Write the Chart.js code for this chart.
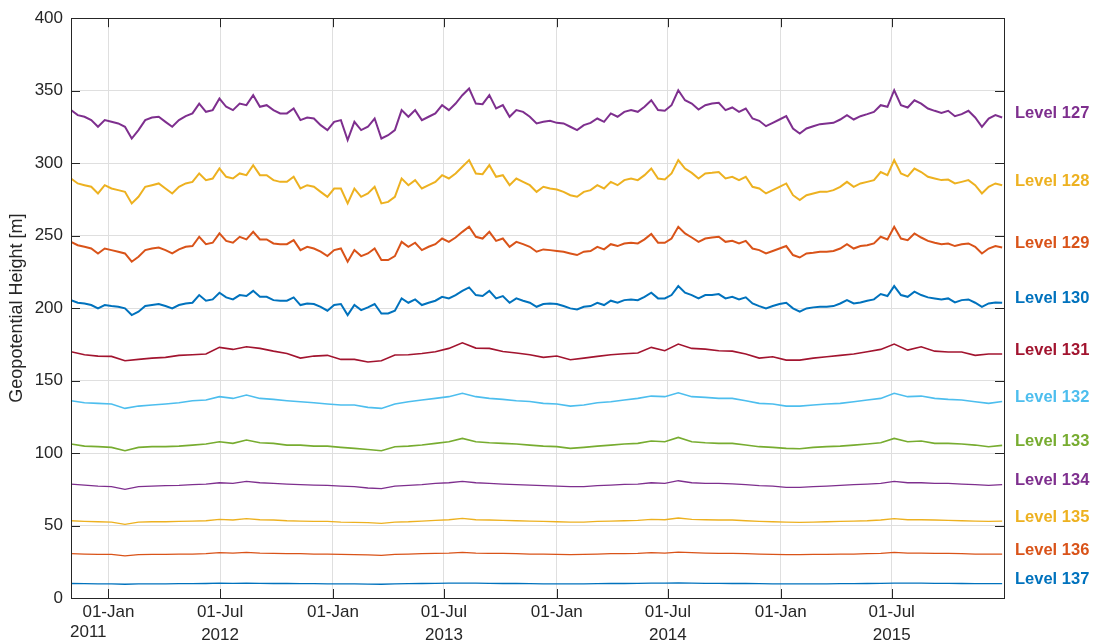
<!DOCTYPE html>
<html>
<head>
<meta charset="utf-8">
<script src="https://cdn.jsdelivr.net/npm/chart.js@4.4.1/dist/chart.umd.min.js"></script>
<style>
  html, body { margin: 0; padding: 0; background: #ffffff; }
  #wrap { width: 1098px; height: 641px; position: relative; }
</style>
</head>
<body>
<div id="wrap"><canvas id="levelsChart" width="1098" height="641"></canvas></div>
<script>
// time axis: daily record from 1 Nov 2011 to 31 Dec 2015
const startDate = '2011-11-01';
const endDate = '2015-12-31';
const tickDates = ['2012-01-01', '2012-07-01', '2013-01-01', '2013-07-01', '2014-01-01', '2014-07-01', '2015-01-01', '2015-07-01'];
const tickLabels = ['01-Jan', '01-Jul', '01-Jan', '01-Jul', '01-Jan', '01-Jul', '01-Jan', '01-Jul'];
const tickYears = ['', '2012', '', '2013', '', '2014', '', '2015'];
const startYearLabel = '2011';
const yTicks = [0, 50, 100, 150, 200, 250, 300, 350, 400];

// sampling steps (days) for the values
const stepUpper = 11;   // levels 127-130
const stepLower = 22;   // levels 131-137

const levelNames = ['Level 127', 'Level 128', 'Level 129', 'Level 130', 'Level 131', 'Level 132',
                    'Level 133', 'Level 134', 'Level 135', 'Level 136', 'Level 137'];
const levelColors = ['#7E2F8E', '#EDB120', '#D95319', '#0072BD', '#A2142F', '#4DBEEE',
                     '#77AC30', '#7E2F8E', '#EDB120', '#D95319', '#0072BD'];

const level127 = [
  336.6, 333.1, 332.0, 329.7, 325.1, 329.7, 328.5, 327.4, 325.1, 317.0,
  322.8, 329.7, 331.5, 332.0, 328.5, 325.1, 329.7, 332.4, 334.3, 341.1,
  335.4, 336.6, 344.6, 338.9, 336.6, 341.1, 340.0, 346.9, 338.9, 340.0,
  336.6, 334.3, 334.3, 337.7, 329.7, 331.5, 330.8, 326.2, 322.8, 328.5,
  329.7, 315.9, 328.5, 322.8, 325.1, 330.8, 317.0, 319.3, 322.8, 336.6,
  332.0, 336.6, 329.7, 332.0, 334.3, 340.0, 336.6, 341.1, 346.9, 351.5,
  341.1, 340.7, 346.9, 337.7, 340.0, 332.0, 336.6, 335.4, 332.0, 327.4,
  328.5, 329.2, 327.8, 327.4, 325.1, 322.8, 326.2, 327.8, 330.8, 328.5,
  334.3, 332.0, 335.4, 336.6, 335.4, 338.9, 343.4, 336.6, 336.1, 340.0,
  350.3, 343.4, 341.1, 337.0, 340.0, 341.1, 341.6, 336.6, 338.4, 335.4,
  337.7, 330.8, 329.2, 325.5, 327.8, 330.1, 332.4, 323.9, 320.5, 323.9,
  325.5, 326.9, 327.4, 327.8, 330.1, 333.1, 330.1, 332.4, 333.8, 335.4,
  340.0, 338.9, 350.3, 340.0, 338.4, 343.4, 341.1, 337.7, 336.1, 334.7,
  336.1, 332.4, 333.8, 336.1, 331.5, 325.1, 330.8, 333.1, 331.5
];
const level128 = [
  289.4, 286.0, 284.8, 283.7, 279.1, 284.8, 282.5, 281.4, 280.2, 272.2,
  276.8, 283.7, 284.8, 286.0, 282.5, 279.1, 283.7, 286.0, 287.1, 292.9,
  288.3, 289.4, 296.3, 290.6, 289.4, 292.9, 291.7, 298.6, 291.7, 291.7,
  288.3, 287.1, 287.1, 290.6, 282.5, 284.8, 283.7, 280.2, 276.8, 282.5,
  282.5, 272.2, 282.5, 276.8, 279.1, 283.7, 272.2, 273.3, 276.8, 289.4,
  284.8, 288.3, 282.5, 284.8, 287.1, 291.7, 289.4, 292.9, 297.5, 302.1,
  292.9, 292.4, 298.6, 290.6, 291.7, 284.8, 289.4, 287.1, 284.8, 280.2,
  283.7, 282.5, 281.8, 280.2, 277.9, 276.8, 280.2, 281.4, 284.8, 282.5,
  287.1, 284.8, 288.3, 289.4, 288.3, 291.7, 296.3, 289.4, 288.7, 292.9,
  302.1, 296.3, 293.3, 289.4, 292.9, 293.3, 293.9, 289.4, 290.6, 288.3,
  290.6, 283.7, 282.5, 279.1, 281.4, 283.7, 286.0, 277.9, 274.5, 277.9,
  279.1, 280.2, 280.2, 281.4, 283.7, 287.1, 283.7, 286.0, 287.1, 288.3,
  293.9, 291.7, 302.1, 292.9, 290.9, 296.3, 293.9, 290.6, 289.4, 288.3,
  288.7, 286.0, 287.1, 288.3, 284.8, 279.1, 283.7, 286.0, 284.8
];
const level129 = [
  245.7, 243.4, 242.3, 241.1, 237.7, 241.1, 240.0, 238.9, 237.7, 232.0,
  235.4, 240.0, 241.1, 241.8, 240.0, 237.7, 240.5, 242.3, 242.8, 249.2,
  244.1, 245.1, 251.5, 246.4, 245.1, 249.2, 247.4, 252.6, 247.4, 247.4,
  244.6, 244.1, 244.1, 246.9, 240.0, 242.3, 241.1, 238.9, 235.9, 240.0,
  241.1, 232.0, 240.0, 235.9, 237.7, 241.1, 233.1, 233.1, 235.9, 245.7,
  242.3, 245.1, 240.0, 242.3, 244.1, 248.0, 245.7, 248.7, 252.6, 256.1,
  249.2, 248.0, 252.6, 246.4, 248.0, 242.3, 245.7, 244.1, 242.3, 238.9,
  240.5, 240.0, 239.4, 238.9, 237.7, 236.6, 238.9, 239.4, 242.3, 240.5,
  244.1, 242.8, 244.6, 245.1, 244.6, 247.4, 251.1, 245.1, 245.1, 248.0,
  256.1, 251.5, 248.7, 245.7, 248.0, 248.7, 249.2, 245.7, 246.4, 244.6,
  246.4, 241.1, 240.0, 237.7, 239.4, 241.1, 242.8, 236.6, 234.9, 237.7,
  238.2, 238.9, 238.9, 239.4, 241.1, 244.1, 241.1, 242.8, 243.4, 244.6,
  249.2, 247.4, 256.1, 248.0, 246.9, 251.5, 248.7, 246.4, 245.1, 244.1,
  244.6, 242.8, 244.1, 244.6, 242.3, 237.7, 241.1, 242.8, 241.8
];
const level130 = [
  205.5, 203.7, 203.2, 202.1, 199.8, 202.1, 201.4, 200.9, 199.8, 195.2,
  197.5, 201.4, 202.1, 202.8, 201.4, 199.8, 202.1, 203.2, 203.7, 209.0,
  205.1, 206.0, 210.6, 207.4, 206.0, 209.0, 208.3, 211.9, 207.8, 207.8,
  205.5, 205.1, 205.1, 207.4, 202.1, 203.2, 202.8, 200.9, 198.2, 202.1,
  202.8, 195.2, 202.1, 198.6, 200.5, 202.8, 196.3, 196.3, 198.2, 206.7,
  203.7, 206.0, 202.1, 203.7, 205.1, 207.8, 206.7, 209.0, 211.9, 214.3,
  209.0, 208.3, 211.9, 206.7, 208.3, 203.7, 206.7, 205.1, 203.7, 200.9,
  202.8, 203.2, 202.8, 201.4, 199.8, 199.1, 200.9, 201.4, 203.7, 202.1,
  205.1, 203.7, 205.5, 206.0, 205.5, 207.8, 210.6, 206.7, 206.7, 209.0,
  215.2, 210.6, 209.0, 206.7, 209.0, 209.0, 209.7, 206.7, 207.8, 206.0,
  207.4, 203.2, 201.4, 199.8, 201.4, 202.8, 203.7, 199.8, 197.5, 199.8,
  200.5, 200.9, 200.9, 201.4, 203.2, 205.5, 203.2, 203.9, 205.1, 206.0,
  209.7, 208.3, 215.2, 209.0, 207.8, 211.3, 209.0, 207.4, 206.7, 206.0,
  206.7, 203.9, 205.5, 206.0, 203.7, 200.9, 203.2, 203.9, 203.7
];
const level131 = [
  169.9, 167.8, 166.9, 166.7, 163.7, 164.6, 165.5, 166.0, 167.4, 167.8,
  168.3, 172.9, 171.5, 173.3, 172.2, 170.3, 168.7, 165.5, 166.9, 167.4,
  164.6, 164.6, 162.8, 163.7, 167.6, 167.8, 168.7, 169.9, 172.2, 176.1,
  172.4, 172.2, 170.1, 169.0, 167.8, 166.0, 166.9, 164.4, 165.5, 166.7,
  167.8, 168.5, 169.0, 172.9, 170.6, 175.2, 172.2, 171.7, 170.6, 170.3,
  168.3, 165.5, 166.4, 164.1, 164.1, 165.5, 166.4, 167.4, 168.3, 169.9,
  171.5, 175.2, 171.0, 173.3, 170.3, 169.7, 169.7, 167.4, 168.3, 168.3
];
const level132 = [
  136.1, 134.7, 134.3, 133.8, 130.8, 132.4, 133.1, 133.8, 134.7, 136.1,
  136.6, 138.9, 137.7, 140.0, 137.7, 137.0, 136.1, 135.4, 134.7, 133.8,
  133.1, 133.1, 131.5, 130.8, 133.8, 135.4, 136.6, 137.7, 138.9, 141.2,
  138.9, 137.7, 137.0, 136.1, 135.6, 134.3, 133.8, 132.4, 133.1, 134.7,
  135.4, 136.6, 137.7, 139.3, 138.9, 141.6, 138.9, 138.4, 137.7, 137.7,
  136.1, 134.3, 133.8, 132.4, 132.4, 133.1, 133.8, 134.3, 135.4, 136.6,
  137.7, 141.2, 138.9, 139.3, 137.7, 137.0, 136.6, 135.4, 134.3, 135.6
];
const level133 = [
  106.2, 104.8, 104.4, 103.9, 101.6, 103.9, 104.4, 104.4, 104.8, 105.5,
  106.2, 107.8, 106.7, 109.0, 107.1, 106.7, 105.5, 105.5, 104.8, 104.8,
  103.9, 103.2, 102.5, 101.6, 104.4, 104.8, 105.5, 106.7, 107.8, 110.1,
  107.8, 107.1, 106.7, 106.2, 105.5, 104.8, 104.4, 103.2, 103.9, 104.8,
  105.5, 106.2, 106.7, 108.3, 107.8, 110.8, 107.8, 107.1, 106.7, 106.7,
  105.5, 104.4, 103.9, 103.2, 103.0, 103.9, 104.4, 104.8, 105.5, 106.2,
  107.1, 110.1, 107.8, 108.3, 106.7, 106.7, 106.2, 105.5, 104.4, 105.3
];
const level134 = [
  78.6, 77.9, 77.2, 76.8, 74.9, 76.8, 77.2, 77.5, 77.7, 78.2,
  78.6, 79.5, 79.1, 80.5, 79.5, 79.1, 78.6, 78.2, 77.9, 77.7,
  77.2, 76.8, 75.9, 75.4, 77.2, 77.7, 78.2, 79.1, 79.5, 80.5,
  79.5, 79.1, 78.6, 78.2, 77.9, 77.5, 77.2, 76.8, 76.8, 77.5,
  77.9, 78.4, 78.6, 79.5, 79.1, 80.9, 79.5, 79.1, 79.1, 78.8,
  78.2, 77.5, 77.2, 76.3, 76.3, 76.8, 77.2, 77.7, 78.2, 78.6,
  79.1, 80.5, 79.5, 79.5, 79.1, 79.1, 78.6, 78.2, 77.7, 78.2
];
const level135 = [
  53.3, 52.9, 52.6, 52.4, 50.8, 52.4, 52.6, 52.6, 52.9, 53.1,
  53.3, 54.2, 53.8, 54.7, 54.0, 53.8, 53.3, 53.1, 52.9, 52.9,
  52.4, 52.2, 52.0, 51.5, 52.4, 52.6, 53.1, 53.5, 54.0, 54.9,
  54.0, 53.8, 53.5, 53.3, 53.1, 52.9, 52.6, 52.4, 52.4, 52.9,
  53.1, 53.3, 53.5, 54.2, 54.0, 55.2, 54.2, 54.0, 53.8, 53.8,
  53.3, 52.9, 52.6, 52.4, 52.2, 52.4, 52.6, 52.9, 53.1, 53.3,
  53.8, 54.7, 54.0, 54.0, 53.8, 53.5, 53.3, 53.1, 52.9, 53.1
];
const level136 = [
  30.6, 30.3, 30.1, 30.1, 29.0, 29.9, 30.1, 30.1, 30.3, 30.3,
  30.6, 31.3, 31.0, 31.5, 31.0, 30.8, 30.6, 30.6, 30.3, 30.3,
  30.1, 29.9, 29.7, 29.4, 30.1, 30.3, 30.6, 30.8, 31.0, 31.5,
  31.0, 30.8, 30.8, 30.6, 30.3, 30.3, 30.1, 29.9, 30.1, 30.3,
  30.6, 30.6, 30.8, 31.3, 31.0, 31.7, 31.3, 31.0, 30.8, 30.8,
  30.6, 30.3, 30.1, 29.9, 29.9, 30.1, 30.1, 30.3, 30.3, 30.6,
  30.8, 31.5, 31.0, 31.0, 30.8, 30.8, 30.6, 30.3, 30.3, 30.3
];
const level137 = [
  10.0, 9.9, 9.8, 9.8, 9.5, 9.7, 9.8, 9.8, 9.9, 9.9,
  10.0, 10.2, 10.1, 10.3, 10.1, 10.0, 10.0, 9.9, 9.9, 9.8,
  9.8, 9.7, 9.6, 9.5, 9.8, 9.9, 10.0, 10.1, 10.2, 10.3,
  10.2, 10.1, 10.0, 10.0, 9.9, 9.8, 9.8, 9.7, 9.8, 9.9,
  10.0, 10.0, 10.1, 10.2, 10.2, 10.4, 10.2, 10.1, 10.1, 10.0,
  10.0, 9.9, 9.8, 9.7, 9.7, 9.8, 9.8, 9.9, 9.9, 10.0,
  10.1, 10.3, 10.2, 10.2, 10.1, 10.1, 10.0, 9.9, 9.9, 9.9
];

const levelSeries = [level127, level128, level129, level130, level131, level132,
                     level133, level134, level135, level136, level137];

const textColor = '#262626';
const gridColor = '#dfdfdf';
const fontFamily = '"Liberation Sans", Arial, Helvetica, sans-serif';

const dayMs = 24 * 3600 * 1000;
const dayOf = (d) => Math.round((Date.parse(d) - Date.parse(startDate)) / dayMs);
const lastDay = dayOf(endDate);
const tickDays = tickDates.map(dayOf);

const toPoints = (values, step) => values.map((v, i) => ({ x: i * step, y: v }));

const datasets = levelSeries.map((values, k) => ({
    label: levelNames[k],
    data: toPoints(values, k < 4 ? stepUpper : stepLower),
    borderColor: levelColors[k],
    backgroundColor: levelColors[k],
    borderWidth: k < 4 ? 2 : (k < 7 ? 1.6 : 1.3),
    pointRadius: 0,
    tension: 0,
    fill: false
}));

// level names at the right end of each line, inward ticks and the axes box
const decorations = {
    id: 'decorations',
    afterDatasetsDraw(chart) {
        const ctx = chart.ctx;
        const area = chart.chartArea;
        const xs = chart.scales.x;
        const ys = chart.scales.y;
        ctx.save();
        ctx.strokeStyle = textColor;
        ctx.lineWidth = 1;
        ctx.beginPath();
        const len = 9;
        yTicks.forEach(v => {
            const y = Math.round(ys.getPixelForValue(v)) + 0.5;
            ctx.moveTo(area.left, y); ctx.lineTo(area.left + len, y);
            ctx.moveTo(area.right, y); ctx.lineTo(area.right - len, y);
        });
        tickDays.forEach(d => {
            const x = Math.round(xs.getPixelForValue(d)) + 0.5;
            ctx.moveTo(x, area.bottom); ctx.lineTo(x, area.bottom - len);
            ctx.moveTo(x, area.top); ctx.lineTo(x, area.top + len);
        });
        ctx.stroke();
        ctx.strokeRect(Math.round(area.left) + 0.5, Math.round(area.top) + 0.5,
                       Math.round(area.right - area.left), Math.round(area.bottom - area.top));

        ctx.font = 'bold 16.5px ' + fontFamily;
        ctx.textBaseline = 'middle';
        ctx.textAlign = 'left';
        levelSeries.forEach((values, k) => {
            const y = ys.getPixelForValue(values[values.length - 1]) - 4;
            ctx.fillStyle = levelColors[k];
            ctx.fillText(levelNames[k], area.right + 11, y);
        });

        ctx.font = '17px ' + fontFamily;
        ctx.fillStyle = textColor;
        ctx.fillText(startYearLabel, area.left - 1, area.bottom + 34);
        ctx.restore();
    }
};

new Chart(document.getElementById('levelsChart'), {
    type: 'line',
    data: { datasets: datasets },
    options: {
        responsive: false,
        animation: false,
        events: [],
        layout: { padding: { left: 0, right: 94, top: 18, bottom: 0 } },
        plugins: { legend: { display: false }, tooltip: { enabled: false } },
        scales: {
            x: {
                type: 'linear',
                min: 0,
                max: lastDay,
                afterBuildTicks: (scale) => { scale.ticks = tickDays.map(v => ({ value: v })); },
                afterFit: (scale) => { scale.height = 43; },
                grid: { color: gridColor, drawTicks: false },
                border: { color: textColor },
                ticks: {
                    color: textColor,
                    font: { family: fontFamily, size: 17, lineHeight: 1.4 },
                    padding: 2,
                    maxRotation: 0,
                    autoSkip: false,
                    callback: (value) => {
                        const k = tickDays.indexOf(value);
                        if (k < 0) return '';
                        return tickYears[k] ? [tickLabels[k], tickYears[k]] : tickLabels[k];
                    }
                }
            },
            y: {
                min: 0,
                max: 400,
                afterBuildTicks: (scale) => { scale.ticks = yTicks.map(v => ({ value: v })); },
                afterFit: (scale) => { scale.width = 71; },
                grid: { color: gridColor, drawTicks: false },
                border: { color: textColor },
                ticks: {
                    color: textColor,
                    font: { family: fontFamily, size: 17 },
                    padding: 8
                },
                title: {
                    display: true,
                    text: 'Geopotential Height [m]',
                    color: textColor,
                    font: { family: fontFamily, size: 18 },
                    padding: { top: 6, bottom: 0 }
                }
            }
        }
    },
    plugins: [decorations]
});
</script>
</body>
</html>
